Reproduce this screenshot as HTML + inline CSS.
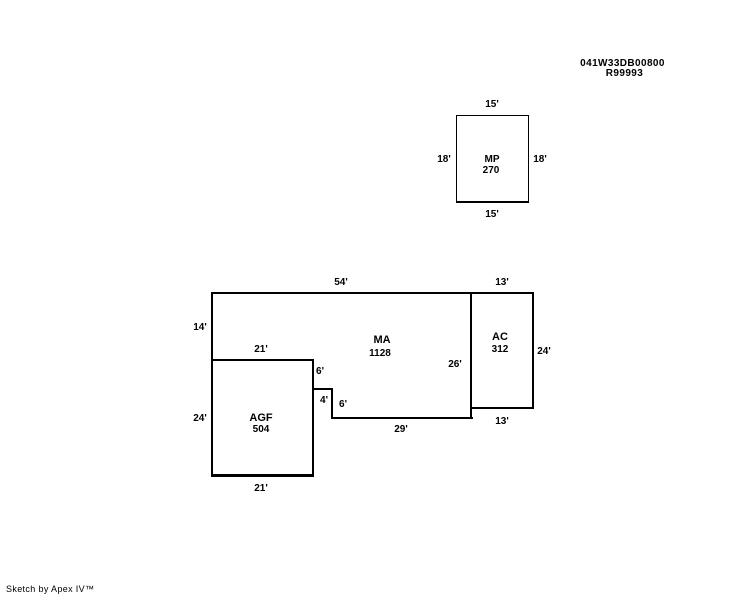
<!DOCTYPE html>
<html>
<head>
<meta charset="utf-8">
<style>
html,body{margin:0;padding:0;background:#fff;width:744px;height:595px;overflow:hidden}
svg{display:block}
text{font-family:"Liberation Sans",Arial,sans-serif;font-size:10px;font-weight:bold;fill:#000;text-anchor:middle}
.l{fill:#000;stroke:none}
</style>
</head>
<body>
<svg width="744" height="595" viewBox="0 0 744 595" xmlns="http://www.w3.org/2000/svg">
<!-- MP -->
<rect class="l" x="456" y="115" width="73" height="1"/>
<rect class="l" x="456" y="115" width="1" height="88"/>
<rect class="l" x="528" y="115" width="1" height="88"/>
<rect class="l" x="456" y="201" width="73" height="2"/>
<!-- MA outline -->
<rect class="l" x="211" y="292" width="323" height="2"/>
<rect class="l" x="211" y="292" width="2" height="184"/>
<rect class="l" x="211" y="359" width="102" height="2"/>
<rect class="l" x="312" y="359" width="2" height="117"/>
<rect class="l" x="211" y="474" width="103" height="3"/>
<rect class="l" x="313" y="388" width="20" height="2"/>
<rect class="l" x="331" y="388" width="2" height="31"/>
<rect class="l" x="331" y="417" width="142" height="2"/>
<rect class="l" x="470" y="292" width="2" height="127"/>
<rect class="l" x="470" y="407" width="64" height="2"/>
<rect class="l" x="532" y="292" width="2" height="117"/>
<!-- Header -->
<text x="622.5" y="66" style="letter-spacing:.4px">041W33DB00800</text>
<text x="624.5" y="76" style="letter-spacing:.4px">R99993</text>
<!-- MP labels -->
<text x="492" y="107">15'</text>
<text x="444" y="162">18'</text>
<text x="540" y="162">18'</text>
<text x="492" y="162">MP</text>
<text x="491" y="173">270</text>
<text x="492" y="217">15'</text>
<!-- Main labels -->
<text x="341" y="285">54'</text>
<text x="502" y="285">13'</text>
<text x="200" y="330">14'</text>
<text x="261" y="352">21'</text>
<text x="382" y="343" style="font-size:11px">MA</text>
<text x="380" y="356">1128</text>
<text x="500" y="340" style="font-size:11px">AC</text>
<text x="500" y="352">312</text>
<text x="544" y="354">24'</text>
<text x="455" y="367">26'</text>
<text x="320" y="374">6'</text>
<text x="324" y="403">4'</text>
<text x="343" y="407">6'</text>
<text x="200" y="421">24'</text>
<text x="261" y="421" style="font-size:11px">AGF</text>
<text x="261" y="432">504</text>
<text x="401" y="432">29'</text>
<text x="502" y="424">13'</text>
<text x="261" y="491">21'</text>
<!-- Footer -->
<text x="6" y="592" style="text-anchor:start;font-weight:normal;font-size:9px;letter-spacing:.35px">Sketch by Apex IV™</text>
</svg>
</body>
</html>
